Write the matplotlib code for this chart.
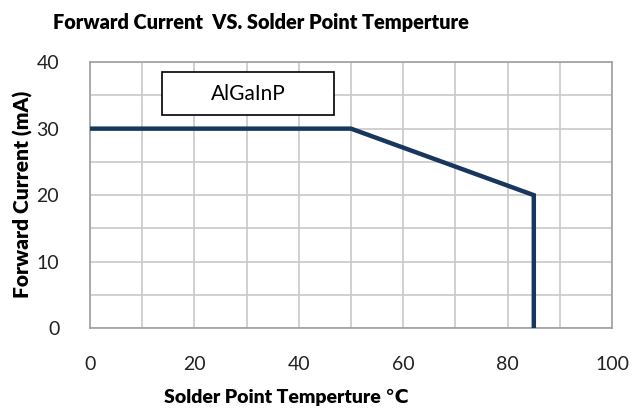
import matplotlib.pyplot as plt
import matplotlib.patches as mpatches
import numpy as np

plt.rcParams['font.family'] = ['Lato', 'DejaVu Sans']

# derating curve
temp = [0, 50, 85, 85]
current = [30, 30, 20, 0]
x_ticks = [0, 20, 40, 60, 80, 100]
y_ticks = [0, 10, 20, 30, 40]

fig = plt.figure(figsize=(6.37, 4.17), dpi=100)
ax = fig.add_axes([0.141, 0.213, 0.820, 0.638])

ax.plot(temp, current, color='#17375e', lw=3.2, solid_joinstyle='miter', zorder=3)

ax.set_xlim(0, 100)
ax.set_ylim(0, 40)
ax.set_xticks(x_ticks)
ax.set_yticks(y_ticks)
ax.set_xticks(np.arange(0, 101, 10), minor=True)
ax.set_yticks(np.arange(0, 41, 5), minor=True)
ax.grid(which='both', color='#c8c8c8', lw=1.2)
ax.set_axisbelow(True)
ax.tick_params(which='both', length=0, labelsize=14, colors='#222222')
ax.tick_params(axis='x', which='major', pad=20)
ax.tick_params(axis='y', which='major', pad=22)
for s in ax.spines.values():
    s.set_color('#a0a0a0')
    s.set_linewidth(1.2)

fig.text(0.41, 0.945, 'Forward Current  VS. Solder Point Temperture', fontsize=14.3,
         fontweight='heavy', ha='center', va='center')
fig.text(0.45, 0.047, 'Solder Point Temperture \u2103', fontsize=14,
         fontweight='heavy', ha='center', va='center')
fig.text(0.036, 0.535, 'Forward Current (mA)', fontsize=15, fontweight='heavy',
         rotation=90, ha='center', va='center')

box = mpatches.Rectangle((0.138, 0.80), 0.329, 0.162, transform=ax.transAxes,
                         fc='white', ec='black', lw=1.2, zorder=4)
ax.add_patch(box)
ax.text(0.303, 0.881, 'AlGaInP', transform=ax.transAxes, ha='center', va='center',
        fontsize=15, zorder=5)

fig.savefig('out.png', dpi=100)
